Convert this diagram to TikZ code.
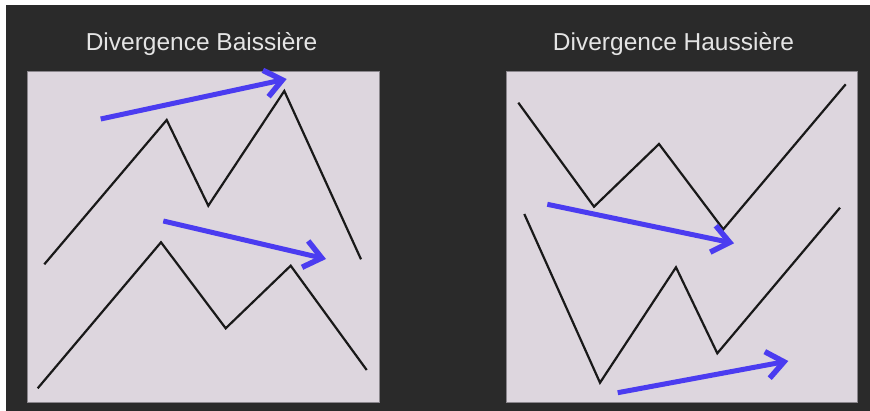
\documentclass[tikz,border=0pt]{standalone}
\usepackage{fontspec}
\setmainfont{Liberation Sans}
\usetikzlibrary{arrows.meta}

\definecolor{fond}{HTML}{2A2A2A}
\definecolor{cadre}{HTML}{DDD6DE}
\definecolor{bordcadre}{HTML}{8A868C}
\definecolor{fleche}{HTML}{4B3CF0}
\definecolor{titregris}{HTML}{E4E4E4}

\begin{document}
\begin{tikzpicture}[x=1pt, y=-1pt,
      panel/.style={draw=bordcadre, line width=0.8pt, fill=cadre},
      titre/.style={text=titregris, anchor=base, inner sep=0pt,
        font=\fontsize{24.5}{28}\selectfont},
      cours/.style={draw=black!90, line width=2.2pt, line join=miter},
      tendance/.style={draw=fleche, line width=5pt,
        -{Straight Barb[length=17pt, width=27pt, line width=5.5pt]}}
    ]
    \useasboundingbox (0,0) rectangle (870,411);
    \fill[white] (0,0) rectangle (870,411);
    \fill[fond] (6,5) rectangle (870,411);
    % titres
    \node[titre] (tbaisse) at (201.5,51) {Divergence Baissière};
    \node[titre] (thausse) at (673.5,51) {Divergence Haussière};
    % cadres
    \draw[panel] (27,71) rectangle (379,402);
    \draw[panel] (506,71) rectangle (857,402);
    % divergence baissiere
    \draw[cours] (44.3,264.3) -- (166.7,120) -- (208.3,205.7) -- (284.3,91) -- (361,259.3);
    \draw[cours] (37.7,388.3) -- (161,242.3) -- (225.7,328.3) -- (290.7,265.7) -- (366.7,370);
    \draw[tendance] (100.7,119) -- (286.7,79);
    \draw[tendance] (163.3,221) -- (326,259);
    % divergence haussiere
    \draw[cours] (518.3,102.7) -- (594,206.7) -- (659,144) -- (723.3,229.3) -- (845.7,84.3);
    \draw[cours] (524.3,214) -- (600,382.7) -- (676,267.3) -- (717.3,353.3) -- (840,207.7);
    \draw[tendance] (547.3,204.3) -- (734,243.3);
    \draw[tendance] (617.7,392.7) -- (788.3,361);
  \end{tikzpicture}
\end{document}
